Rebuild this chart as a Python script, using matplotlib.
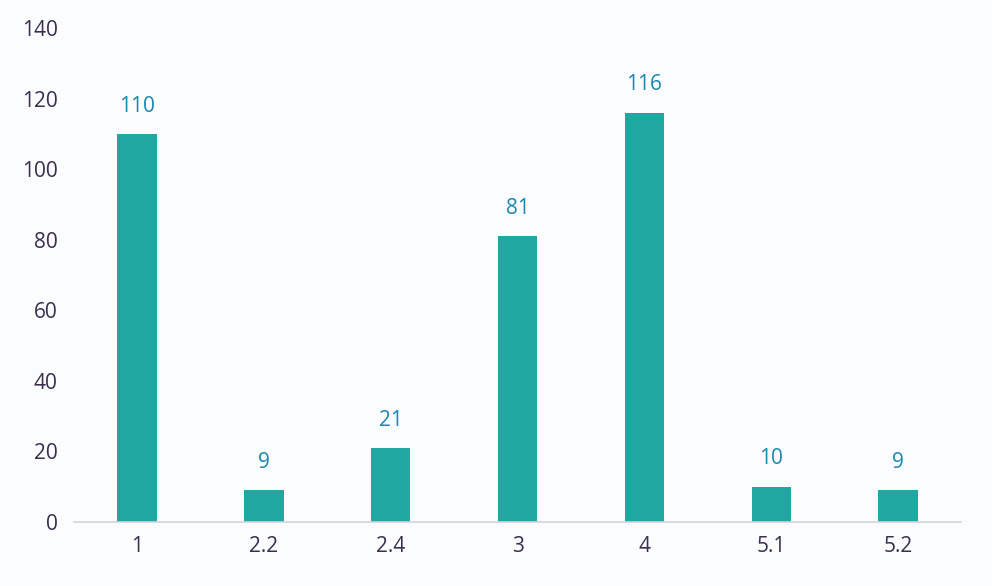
import matplotlib
matplotlib.use("Agg")
import matplotlib.pyplot as plt

categories = ["1", "2.2", "2.4", "3", "4", "5.1", "5.2"]
values = [110, 9, 21, 81, 116, 10, 9]
yticks = [0, 20, 40, 60, 80, 100, 120, 140]

plt.rcParams['font.family'] = ['Open Sans', 'DejaVu Sans']
bg = '#fbfcfe'
fig = plt.figure(figsize=(9.92, 5.86), dpi=100, facecolor=bg)
ax = fig.add_axes([0.0742, 0.1092, 0.8950, 0.843])
ax.set_facecolor(bg)

x = list(range(len(categories)))
bars = ax.bar(x, values, width=0.31, color='#1fa8a2')
for xi, v in zip(x, values):
    ax.text(xi, v + 6.3, str(v), ha='center', va='baseline', fontsize=15, color='#1b86b0')

ax.set_xlim(-0.5, len(categories) - 0.5)
ax.set_ylim(0, 140)
ax.set_yticks(yticks)
ax.set_xticks(x)
ax.set_xticklabels(categories)
ax.tick_params(axis='both', length=0, labelsize=15, labelcolor='#3a2d4d')
ax.tick_params(axis='y', pad=11.5)
ax.tick_params(axis='x', pad=10)
for s in ['top', 'right', 'left']:
    ax.spines[s].set_visible(False)
ax.spines['bottom'].set_color('#d0d5dc')
ax.spines['bottom'].set_linewidth(1.2)

fig.savefig('out.png', dpi=100, facecolor=bg)
